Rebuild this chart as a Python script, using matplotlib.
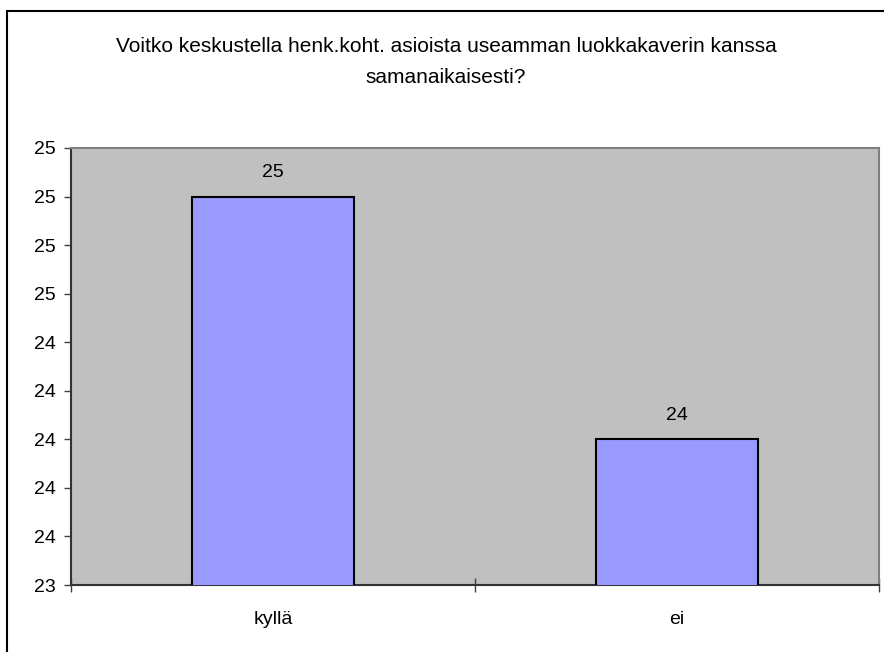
import matplotlib
matplotlib.use("Agg")
import matplotlib.pyplot as plt
from matplotlib.patches import Rectangle
from matplotlib.ticker import FuncFormatter

categories = ["kyllä", "ei"]
values = [25, 24]
title = "Voitko keskustella henk.koht. asioista useamman luokkakaverin kanssa\nsamanaikaisesti?"
y_ticks = [23.4, 23.6, 23.8, 24.0, 24.2, 24.4, 24.6, 24.8, 25.0, 25.2]

plt.rcParams['font.family'] = ['Liberation Sans', 'DejaVu Sans']

W, H = 884, 652
fig = plt.figure(figsize=(W / 100, H / 100), dpi=100)
fig.patch.set_facecolor('white')

# outer chart border (excel style), right and bottom edges run off the image
fig.patches.append(Rectangle((6.5 / W, -0.1), 1.0, 1.1 - 10.5 / H, transform=fig.transFigure,
                             fill=False, edgecolor='black', linewidth=1.5))

left, right, top, bottom = 71, 879, 148, 585
ax = fig.add_axes([left / W, 1 - bottom / H, (right - left) / W, (bottom - top) / H])
ax.set_facecolor('#C0C0C0')

x = list(range(len(categories)))
bars = ax.bar(x, values, width=0.40, color='#9999FF', edgecolor='black', linewidth=1.5, zorder=3)
for xi, v in zip(x, values):
    ax.annotate(str(v), (xi, v), xytext=(0, 11), textcoords='offset points',
                ha='center', va='bottom', fontsize=14)

ax.set_xlim(-0.5, len(categories) - 0.5)
ax.set_ylim(y_ticks[0], y_ticks[-1])
ax.set_yticks(y_ticks)
ax.yaxis.set_major_formatter(FuncFormatter(lambda v, p: f"{v:.0f}"))
ax.tick_params(axis='y', direction='out', length=5, width=1, labelsize=14, pad=6, color='#404040')

ax.set_xticks([i - 0.5 for i in range(len(categories) + 1)])
ax.set_xticklabels([])
ax.set_xticks(x, minor=True)
ax.set_xticklabels(categories, minor=True)
ax.tick_params(axis='x', which='major', direction='inout', length=10, width=1, color='#404040')
ax.tick_params(axis='x', which='minor', length=0, labelsize=14, pad=19)

for s in ['top', 'right']:
    ax.spines[s].set_color('#808080')
    ax.spines[s].set_linewidth(1.5)
for s in ['left', 'bottom']:
    ax.spines[s].set_color('#333333')
    ax.spines[s].set_linewidth(1.5)

fig.text(446 / W, 1 - 62 / H, title, ha='center', va='center', fontsize=15, linespacing=1.8)

fig.savefig("out.png", dpi=100)
